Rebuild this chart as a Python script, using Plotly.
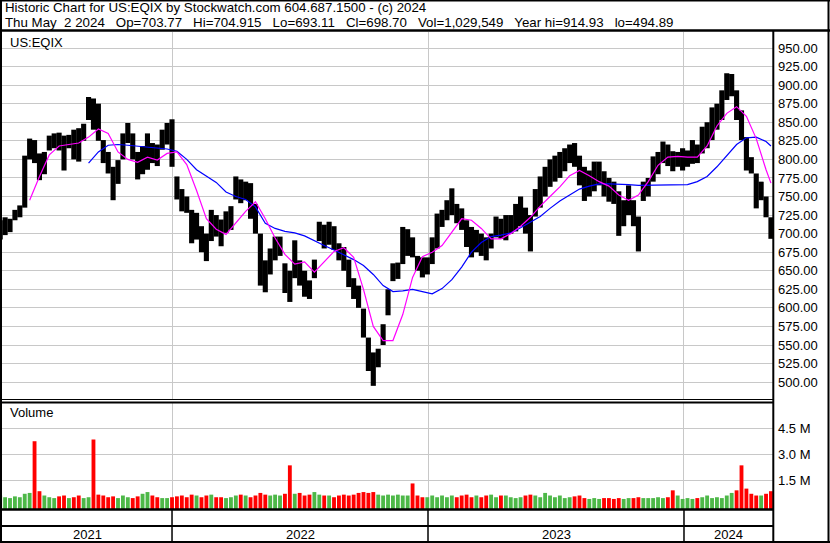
import pandas as pd
import plotly.graph_objects as go

# ---------------- data ----------------
week_start = "2021-05-01"
n_weeks = 158

week_low = [
    692, 698, 702, 718, 722, 735, 800, 795, 772, 780,
    812, 815, 812, 785, 815, 800, 797, 825, 853, 840,
    825, 795, 781, 745, 767, 800, 822, 800, 773, 780,
    786, 795, 791, 813, 820, 790, 746, 730, 728, 687,
    692, 675, 663, 690, 696, 683, 701, 705, 746, 741,
    745, 720, 700, 630, 621, 645, 664, 670, 620, 608,
    640, 630, 615, 612, 640, 690, 680, 685, 678, 664,
    650, 628, 612, 600, 560, 515, 495, 520, 550, 590,
    636, 639, 659, 670, 668, 650, 641, 645, 659, 680,
    709, 718, 725, 714, 705, 682, 668, 675, 670, 664,
    680, 695, 693, 691, 700, 703, 710, 700, 676, 723,
    735, 750, 763, 770, 775, 784, 795, 790, 765, 744,
    750, 757, 765, 750, 743, 740, 697, 710, 725, 710,
    676, 744, 750, 770, 780, 795, 791, 784, 790, 785,
    790, 794, 795, 808, 815, 826, 840, 853, 880, 885,
    853, 826, 785, 781, 734, 745, 722, 693,
]
week_high = [
    718, 722, 720, 732, 738, 805, 828, 826, 808, 810,
    832, 835, 836, 832, 833, 840, 842, 848, 884, 882,
    875, 826, 810, 790, 799, 835, 849, 835, 810, 818,
    835, 822, 820, 840, 849, 854, 777, 760, 750, 732,
    728, 710, 700, 732, 725, 719, 730, 737, 777, 773,
    770, 768, 740, 700, 664, 680, 696, 696, 660, 650,
    691, 664, 650, 637, 665, 716, 712, 716, 710, 687,
    682, 665, 640, 630, 599, 560, 540, 545, 578, 625,
    660, 661, 709, 706, 695, 670, 668, 668, 695, 727,
    732, 745, 761, 740, 734, 718, 709, 705, 700, 695,
    700, 723, 720, 725, 725, 740, 750, 735, 725, 760,
    777, 790, 800, 805, 810, 815, 820, 822, 805, 790,
    785, 797, 797, 784, 775, 770, 757, 745, 765, 745,
    723, 770, 775, 804, 810, 824, 820, 811, 810, 815,
    812, 826, 820, 844, 850, 870, 875, 893, 916, 915,
    893, 866, 830, 803, 781, 770, 750, 722,
]
# weekly volume, millions of shares
week_volume_m = [
    0.6, 0.5, 0.45, 0.55, 0.5, 0.7, 0.75, 3.75, 0.85, 0.6,
    0.5, 0.45, 0.55, 0.6, 0.45, 0.5, 0.6, 0.45, 0.5, 3.85,
    0.65, 0.6, 0.5, 0.55, 0.45, 0.6, 0.5, 0.45, 0.55, 0.7,
    0.8, 0.6, 0.5, 0.45, 0.45, 0.5, 0.55, 0.6, 0.5, 0.65,
    0.6, 0.5, 0.6, 0.65, 0.5, 0.5, 0.45, 0.5, 0.6, 0.65,
    0.6, 0.5, 0.6, 0.75, 0.65, 0.6, 0.65, 0.6, 0.7, 2.35,
    0.7, 0.75, 0.6, 0.65, 0.8, 0.65, 0.6, 0.6, 0.5, 0.6,
    0.65, 0.6, 0.65, 0.75, 0.8, 0.75, 0.8, 0.65, 0.6, 0.65,
    0.6, 0.65, 0.6, 0.6, 1.3, 0.6, 0.5, 0.5, 0.6, 0.5,
    0.6, 0.5, 0.6, 0.5, 0.6, 0.65, 0.5, 0.6, 0.5, 0.6,
    0.65, 0.5, 0.6, 0.6, 0.5, 0.45, 0.5, 0.6, 0.65, 0.6,
    0.5, 0.75, 0.6, 0.5, 0.6, 0.45, 0.5, 0.55, 0.6, 0.45,
    0.4, 0.45, 0.4, 0.45, 0.45, 0.4, 0.45, 0.4, 0.45, 0.45,
    0.5, 0.45, 0.45, 0.45, 0.5, 0.45, 0.5, 0.9, 0.6, 0.4,
    0.45, 0.4, 0.45, 0.5, 0.6, 0.45, 0.5, 0.45, 0.6, 0.75,
    0.9, 2.35, 1.0, 0.7, 0.6, 0.6, 0.7, 0.85,
]
# moving averages sampled every second week (plus the last week)
ma_fast = [
    None, None, None, 745, 777, 806, 818, 820, 822, 830,
    841, 835, 810, 800, 796, 803, 799, 808, 810, 793,
    758, 720, 706, 699, 715, 730, 743, 720, 694, 672,
    659, 662, 648, 662, 676, 681, 668, 625, 575, 556,
    556, 591, 641, 669, 675, 684, 702, 720, 718, 707,
    693, 693, 700, 710, 722, 737, 750, 763, 778, 785,
    778, 770, 764, 752, 745, 752, 770, 792, 803, 804,
    803, 803, 818, 845, 862, 871, 858, 828, 786, 768,
]
ma_slow = [
    None, None, None, None, None, None, None, None, None, 795,
    810, 819, 820, 819, 818, 816, 815, 814, 811, 800,
    786, 777, 769, 756, 750, 746, 736, 714, 707, 703,
    701, 697, 690, 684, 678, 672, 665, 657, 645, 630,
    622, 623, 625, 622, 619, 626, 638, 655, 675, 688,
    696, 698, 701, 708, 716, 723, 734, 744, 752, 760,
    764, 767, 767, 767, 766, 765, 765, 765, 765, 765,
    766, 770, 777, 790, 805, 820, 829, 830, 824, 818,
]
price_ticks = [500 + 25 * k for k in range(19)]
volume_ticks = [1.5, 3.0, 4.5]
years = ["2021", "2022", "2023", "2024"]
title_line1 = "Historic Chart for US:EQIX by Stockwatch.com 604.687.1500 - (c) 2024"
title_line2 = ("Thu May\u00a0 2 2024\u00a0\u00a0 Op=703.77\u00a0\u00a0 Hi=704.915\u00a0\u00a0 Lo=693.11\u00a0\u00a0 "
               "Cl=698.70\u00a0\u00a0 Vol=1,029,549\u00a0\u00a0 Year hi=914.93\u00a0\u00a0 lo=494.89")
symbol = "US:EQIX"

# ---------------- derived ----------------
dates = pd.date_range(week_start, periods=n_weeks, freq="7D")
ma_idx = list(range(0, n_weeks - 1, 2)) + [n_weeks - 1]
ma_dates = [dates[i] for i in ma_idx]
mid = [(l + h) / 2 for l, h in zip(week_low, week_high)]
vol_colors = ["#4db848" if i == 0 or mid[i] >= mid[i - 1] else "#ff0000" for i in range(n_weeks)]

W, H = 830, 543
def fx(px):
    return px / W
def fy(py):
    return 1 - py / H

X_RANGE = [pd.Timestamp("2021-05-03 14:00"), pd.Timestamp("2024-05-06 22:00")]
P_RANGE = [477.27, 971.55]
V_RANGE = [-0.183, 5.968]
FONT = "Liberation Sans, Arial, sans-serif"
GRID = "#c8c8c8"
day_ms = 86400000

fig = go.Figure()
fig.add_trace(go.Bar(
    x=dates, y=[h - l for l, h in zip(week_low, week_high)], base=week_low,
    width=7.3 * day_ms, marker=dict(color="black", line=dict(width=0)),
    xaxis="x", yaxis="y", hoverinfo="skip"))
fig.add_trace(go.Scatter(
    x=ma_dates, y=ma_slow, mode="lines", line=dict(color="#0000ff", width=1.2),
    xaxis="x", yaxis="y", hoverinfo="skip"))
fig.add_trace(go.Scatter(
    x=ma_dates, y=ma_fast, mode="lines", line=dict(color="#ff00ff", width=1.2),
    xaxis="x", yaxis="y", hoverinfo="skip"))
fig.add_trace(go.Bar(
    x=dates, y=[v - V_RANGE[0] for v in week_volume_m], base=V_RANGE[0],
    width=5.5 * day_ms, marker=dict(color=vol_colors, line=dict(width=0)),
    xaxis="x2", yaxis="y2", hoverinfo="skip"))

year_starts = [pd.Timestamp(f"{y}-01-01") for y in years[1:]]
bounds = [X_RANGE[0]] + year_starts + [X_RANGE[1]]

xaxis_common = dict(
    type="date", range=X_RANGE, domain=[fx(2), fx(773)],
    tickmode="array", tickvals=year_starts, showticklabels=False,
    showgrid=True, gridcolor=GRID, gridwidth=1, ticks="", zeroline=False, showline=False)

tickfont = dict(family=FONT, size=13, color="#000000")
fig.update_layout(
    width=W, height=H, margin=dict(l=0, r=0, t=0, b=0),
    paper_bgcolor="white", plot_bgcolor="white", showlegend=False,
    barmode="overlay",
    xaxis=dict(anchor="y", **xaxis_common),
    xaxis2=dict(anchor="y2", matches="x", **xaxis_common),
    yaxis=dict(domain=[fy(399), fy(32)], range=P_RANGE, side="right", anchor="x",
               tickmode="array", tickvals=price_ticks,
               ticktext=[f"{v:.2f}" for v in price_ticks],
               showgrid=True, gridcolor=GRID, gridwidth=1, ticks="", zeroline=False,
               tickfont=tickfont, ticklabelstandoff=4),
    yaxis2=dict(domain=[fy(509), fy(403)], range=V_RANGE, side="right", anchor="x2",
                tickmode="array", tickvals=volume_ticks,
                ticktext=[f"{v:.1f} M" for v in volume_ticks],
                showgrid=True, gridcolor=GRID, gridwidth=1, ticks="", zeroline=False,
                tickfont=tickfont, ticklabelstandoff=4),
)

shapes = []
def hline(py, w, x0=0, x1=W):
    shapes.append(dict(type="line", xref="paper", yref="paper", x0=fx(x0), x1=fx(x1),
                       y0=fy(py), y1=fy(py), line=dict(color="black", width=w)))
def vline(px, w, y0, y1):
    shapes.append(dict(type="line", xref="paper", yref="paper", x0=fx(px), x1=fx(px),
                       y0=fy(y0), y1=fy(y1), line=dict(color="black", width=w)))

hline(0.5, 2)
hline(30.5, 2.5)
hline(399.5, 1.2, 0, 773)
hline(402.5, 2, 0, 773)
hline(509.5, 2.5, 0, 773)
hline(526, 2, 0, 773)
hline(542, 2)
vline(1, 2, 0, 543)
vline(828.5, 2, 0, 543)
vline(773.3, 2, 30, 543)
for ys in year_starts:
    shapes.append(dict(type="line", xref="x", yref="paper", x0=ys, x1=ys,
                       y0=fy(541), y1=fy(510), line=dict(color="black", width=1.5)))
fig.update_layout(shapes=shapes)

ann = []
ann.append(dict(text=title_line1, xref="paper", yref="paper", x=fx(3), y=fy(8),
                xanchor="left", yanchor="middle", showarrow=False,
                font=dict(family=FONT, size=13.3, color="black")))
ann.append(dict(text=title_line2, xref="paper", yref="paper", x=fx(3), y=fy(22.5),
                xanchor="left", yanchor="middle", showarrow=False,
                font=dict(family=FONT, size=13.3, color="black")))
ann.append(dict(text=symbol, xref="paper", yref="paper", x=fx(8), y=fy(42),
                xanchor="left", yanchor="middle", showarrow=False,
                font=dict(family=FONT, size=13, color="black")))
ann.append(dict(text="Volume", xref="paper", yref="paper", x=fx(8), y=fy(413),
                xanchor="left", yanchor="middle", showarrow=False,
                font=dict(family=FONT, size=13, color="black")))
for k, yr in enumerate(years):
    a, b = bounds[k], bounds[k + 1]
    ann.append(dict(text=yr, xref="x", yref="paper", x=a + (b - a) / 2, y=fy(534.5),
                    xanchor="center", yanchor="middle", showarrow=False,
                    font=dict(family=FONT, size=13, color="black")))
fig.update_layout(annotations=ann)

fig.write_html("out.html", config={"displayModeBar": False},
               post_script="document.body.style.margin='0';document.body.style.overflow='hidden';")
